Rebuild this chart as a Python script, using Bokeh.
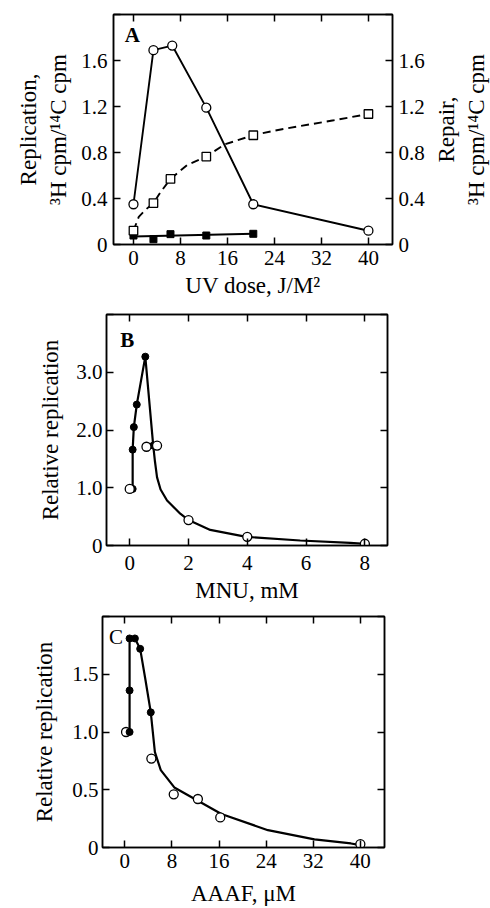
import math
from bokeh.plotting import figure
from bokeh.models import LinearAxis, FixedTicker, Range1d, Label
from bokeh.layouts import column, row
from bokeh.embed import file_html
from bokeh.resources import INLINE

FONT = "Liberation Serif"

# ---------------- Panel A data ----------------
uv_ticks = [0, 8, 16, 24, 32, 40]
uv_tick_labels = ["0", "8", "16", "24", "32", "40"]
a_yticks = [0, 0.4, 0.8, 1.2, 1.6, 2.0]
a_ytick_labels = ["0", "0.4", "0.8", "1.2", "1.6", ""]

uv_replication_x = [0, 3.4, 6.6, 12.4, 20.4, 40]
replication_y = [0.35, 1.69, 1.73, 1.19, 0.35, 0.12]

uv_repair_x = [0, 3.4, 6.3, 12.4, 20.4, 40]
repair_y = [0.12, 0.36, 0.57, 0.765, 0.95, 1.135]

repair_curve_x = [0, 0.9, 2.0, 3.4, 4.6, 6.3, 9.1, 12.4, 15.5, 20.4, 24.0, 28.4, 34.1, 40]
repair_curve_y = [0.12, 0.24, 0.30, 0.36, 0.455, 0.57, 0.69, 0.765, 0.87, 0.95, 0.99, 1.03, 1.08, 1.135]

uv_control_x = [0, 3.4, 6.3, 12.4, 20.4]
control_y = [0.078, 0.046, 0.09, 0.078, 0.093]
control_line_x = [0, 20.4]
control_line_y = [0.07, 0.093]

# ---------------- Panel B data ----------------
mnu_ticks = [0, 2, 4, 6, 8]
mnu_tick_labels = ["0", "2", "4", "6", "8"]
b_yticks = [0, 1, 2, 3, 4]
b_ytick_labels = ["0", "1.0", "2.0", "3.0", ""]

mnu_filled_x = [0.1, 0.1, 0.14, 0.24, 0.53, 0.8]
mnu_filled_y = [0.98, 1.66, 2.05, 2.44, 3.27, 1.73]
mnu_open_x = [0, 0.57, 0.93, 2.0, 4.0, 8.0]
mnu_open_y = [0.98, 1.71, 1.73, 0.44, 0.15, 0.03]
mnu_curve_x = [0.1, 0.1, 0.14, 0.24, 0.53, 0.8, 0.86, 0.93, 1.05, 1.27, 1.72, 2.0, 2.74, 3.97, 5.8, 7.5, 8.0]
mnu_curve_y = [0.98, 1.66, 2.05, 2.44, 3.27, 1.73, 1.45, 1.18, 0.97, 0.78, 0.55, 0.44, 0.27, 0.15, 0.087, 0.047, 0.03]

# ---------------- Panel C data ----------------
aaaf_ticks = [0, 8, 16, 24, 32, 40]
aaaf_tick_labels = ["0", "8", "16", "24", "32", "40"]
c_yticks = [0, 0.5, 1.0, 1.5, 2.0]
c_ytick_labels = ["0", "0.5", "1.0", "1.5", ""]

aaaf_filled_x = [0.8, 0.8, 0.8, 1.7, 2.6, 4.4]
aaaf_filled_y = [1.0, 1.36, 1.81, 1.81, 1.72, 1.17]
aaaf_open_x = [0.2, 4.5, 8.3, 12.4, 16.2, 40]
aaaf_open_y = [1.0, 0.77, 0.46, 0.42, 0.26, 0.03]
aaaf_curve_x = [0.8, 0.8, 0.8, 1.7, 2.6, 3.5, 4.4, 5.1, 6.1, 8.4, 12.4, 16.4, 24.3, 32.2, 38.4, 40]
aaaf_curve_y = [1.0, 1.36, 1.81, 1.81, 1.72, 1.45, 1.17, 0.825, 0.67, 0.52, 0.405, 0.29, 0.15, 0.07, 0.035, 0.02]

TICK_SIZE = "21px"
LABEL_SIZE = "23px"


def style_axis(ax, ticks, labels=None, label_text=None, standoff=6, label_standoff=12):
    ax.ticker = FixedTicker(ticks=ticks)
    ax.major_tick_in = 7
    ax.major_tick_out = 0
    ax.minor_tick_line_color = None
    ax.axis_line_color = "black"
    ax.axis_line_width = 1.5
    ax.major_tick_line_color = "black"
    ax.major_tick_line_width = 1.5
    if labels is not None:
        ax.major_label_overrides = {t: l for t, l in zip(ticks, labels)}
        ax.major_label_text_font = FONT
        ax.major_label_text_font_size = TICK_SIZE
        ax.major_label_text_color = "black"
        ax.major_label_standoff = standoff
    else:
        ax.major_label_text_font_size = "0px"
        ax.major_label_text_color = None
        ax.major_label_standoff = 0
    if label_text is not None:
        ax.axis_label = label_text
        ax.axis_label_text_font = FONT
        ax.axis_label_text_font_size = LABEL_SIZE
        ax.axis_label_text_font_style = "normal"
        ax.axis_label_text_color = "black"
        ax.axis_label_standoff = label_standoff


def make_fig(xr, yr, w, h, bl, br, bt, bb):
    p = figure(x_range=Range1d(*xr), y_range=Range1d(*yr),
               width=w, height=h,
               min_border_left=bl, min_border_right=br,
               min_border_top=bt, min_border_bottom=bb,
               output_backend="svg", toolbar_location=None)
    p.frame_align = False
    p.xgrid.visible = False
    p.ygrid.visible = False
    p.outline_line_color = "black"
    p.outline_line_width = 1.5
    p.background_fill_color = "white"
    p.border_fill_color = "white"
    return p


def panel_letter(p, x, y, text, style):
    p.add_layout(Label(x=x, y=y, text=text, text_font=FONT, text_font_size="21px",
                       text_font_style=style, text_color="black",
                       text_align="center", text_baseline="middle"))


# ---------------- Panel A ----------------
pa = make_fig((-3.4, 44.1), (0, 2.0), 430, 300, 113, 38, 14, 56)
style_axis(pa.xaxis[0], uv_ticks, uv_tick_labels, "UV dose, J/M\u00b2", 6, 5)
style_axis(pa.yaxis[0], a_yticks, a_ytick_labels, "Replication,\n\u00b3H cpm/\u00b9\u2074C cpm", 6, 7)
top_a = LinearAxis()
style_axis(top_a, uv_ticks)
pa.add_layout(top_a, "above")
right_a = LinearAxis()
style_axis(right_a, a_yticks, a_ytick_labels, None, 6)
pa.add_layout(right_a, "right")

pa.line(repair_curve_x, repair_curve_y, line_color="black", line_width=1.9, line_dash="8 5")
pa.line(uv_replication_x, replication_y, line_color="black", line_width=1.9)
pa.line(control_line_x, control_line_y, line_color="black", line_width=1.9)
pa.scatter(uv_control_x, control_y, marker="square", size=7, fill_color="black", line_color="black")
pa.scatter(uv_repair_x, repair_y, marker="square", size=8.5, fill_color="white", line_color="black", line_width=1.3)
pa.scatter(uv_replication_x, replication_y, marker="circle", size=9, fill_color="white", line_color="black", line_width=1.3)
panel_letter(pa, -0.2, 1.82, "A", "bold")

# side strip carrying the right-hand "Repair" axis title (reads bottom-to-top)
side = figure(x_range=Range1d(0, 1), y_range=Range1d(0, 2.0), width=60, height=300,
              min_border_left=57, min_border_right=1, min_border_top=14, min_border_bottom=56,
              output_backend="svg", toolbar_location=None)
side.frame_align = False
side.xaxis.visible = False
side.xgrid.visible = False
side.ygrid.visible = False
side.outline_line_color = None
sax = side.yaxis[0]
sax.ticker = FixedTicker(ticks=[])
sax.axis_line_color = None
sax.major_tick_line_color = None
sax.minor_tick_line_color = None
sax.major_label_text_font_size = "0px"
sax.major_label_text_color = None
sax.major_label_standoff = 0
sax.axis_label = "Repair,\n\u00b3H cpm/\u00b9\u2074C cpm"
sax.axis_label_text_font = FONT
sax.axis_label_text_font_size = LABEL_SIZE
sax.axis_label_text_font_style = "normal"
sax.axis_label_text_color = "black"
sax.axis_label_standoff = 0

# ---------------- Panel B ----------------
pb = make_fig((-0.79, 8.77), (0, 4.0), 490, 310, 106, 103, 14, 65)
style_axis(pb.xaxis[0], mnu_ticks, mnu_tick_labels, "MNU, mM", 10, 5)
style_axis(pb.yaxis[0], b_yticks, b_ytick_labels, "Relative replication", 4, 10)
top_b = LinearAxis()
style_axis(top_b, mnu_ticks)
pb.add_layout(top_b, "above")
right_b = LinearAxis()
style_axis(right_b, b_yticks)
pb.add_layout(right_b, "right")

pb.line(mnu_curve_x, mnu_curve_y, line_color="black", line_width=2.2)
pb.scatter(mnu_filled_x, mnu_filled_y, marker="circle", size=7, fill_color="black", line_color="black")
pb.scatter(mnu_open_x, mnu_open_y, marker="circle", size=9, fill_color="white", line_color="black", line_width=1.3)
panel_letter(pb, -0.08, 3.56, "B", "bold")

# ---------------- Panel C ----------------
pc = make_fig((-3.8, 44.1), (0, 2.0), 490, 298, 102, 106, 6, 61)
style_axis(pc.xaxis[0], aaaf_ticks, aaaf_tick_labels, "AAAF, \u03bcM", 6, 10)
style_axis(pc.yaxis[0], c_yticks, c_ytick_labels, "Relative replication", 4, 12)
top_c = LinearAxis()
style_axis(top_c, aaaf_ticks)
pc.add_layout(top_c, "above")
right_c = LinearAxis()
style_axis(right_c, c_yticks)
pc.add_layout(right_c, "right")

pc.line(aaaf_curve_x, aaaf_curve_y, line_color="black", line_width=2.2)
pc.scatter(aaaf_open_x, aaaf_open_y, marker="circle", size=9, fill_color="white", line_color="black", line_width=1.3)
pc.scatter(aaaf_filled_x, aaaf_filled_y, marker="circle", size=7, fill_color="black", line_color="black")
panel_letter(pc, -1.5, 1.82, "C", "normal")

layout = column(row(pa, side, spacing=0), pb, pc, spacing=0)
open("out.html", "w").write(file_html(layout, INLINE))
